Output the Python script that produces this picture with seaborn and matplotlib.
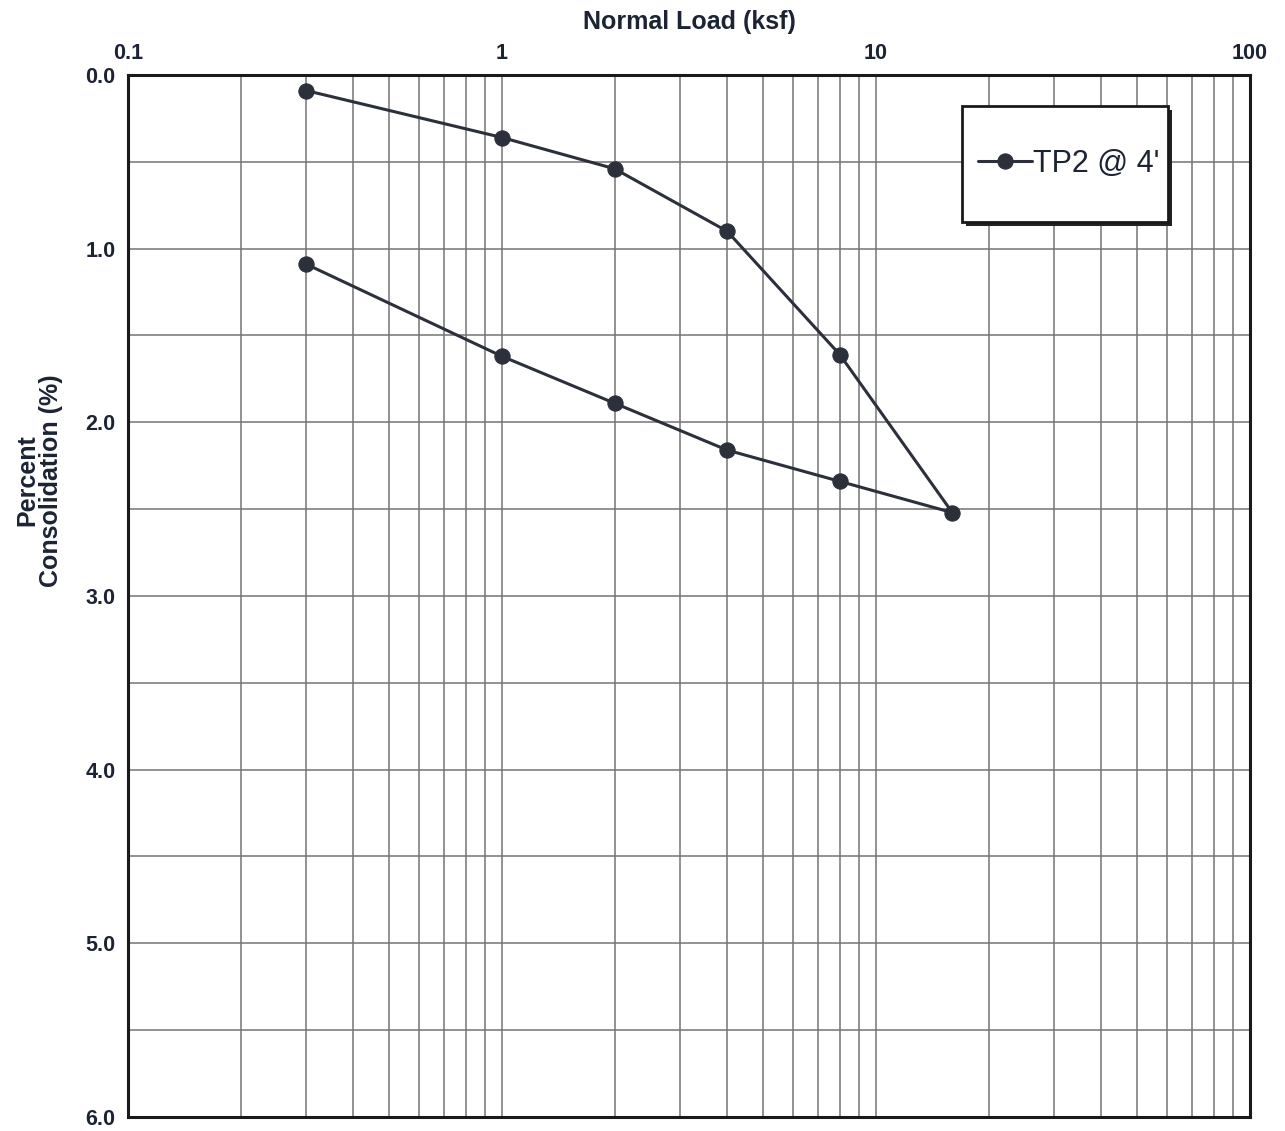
import matplotlib
matplotlib.use("Agg")
import matplotlib.pyplot as plt
import matplotlib.transforms as mtransforms
from matplotlib.patches import Rectangle
from matplotlib.ticker import FixedLocator, NullFormatter
import numpy as np
import pandas as pd
import seaborn as sns

# Consolidation test, loading then unloading sequence
normal_load = [0.3, 1, 2, 4, 8, 16, 8, 4, 2, 1, 0.3]
percent_consolidation = [0.09, 0.36, 0.54, 0.90, 1.61, 2.52, 2.34, 2.16, 1.89, 1.62, 1.09]
series_label = "TP2 @ 4'"

x_tick_values = [0.1, 1, 10, 100]
x_tick_labels = ["0.1", "1", "10", "100"]
y_tick_values = [0, 1, 2, 3, 4, 5, 6]
y_tick_labels = ["0.0", "1.0", "2.0", "3.0", "4.0", "5.0", "6.0"]

df = pd.DataFrame({
    "step": np.arange(len(normal_load)),
    "load": normal_load,
    "consolidation": percent_consolidation,
    "sample": series_label,
})

sns.set_theme(style="white")
plt.rcParams["font.family"] = ["Liberation Sans", "DejaVu Sans"]

fig = plt.figure(figsize=(12.85, 11.31), dpi=100)
ax = fig.add_axes([0.0996, 0.0124, 0.8732, 0.9213])

line_color = "#2b303b"
sns.lineplot(data=df, x="load", y="consolidation", hue="sample", sort=False,
             estimator=None, marker="o", markersize=11, linewidth=2.2,
             palette=[line_color], markeredgecolor=line_color, ax=ax)

ax.set_xscale("log")
ax.set_xlim(0.1, 100)
ax.set_ylim(6, 0)

# grid: every decade subdivision and every half percent
minor_x = [m * 10.0 ** e for e in (-1, 0, 1) for m in range(2, 10)]
ax.xaxis.set_major_locator(FixedLocator(x_tick_values))
ax.xaxis.set_minor_locator(FixedLocator(minor_x))
ax.xaxis.set_minor_formatter(NullFormatter())
ax.set_xticklabels(x_tick_labels)
ax.yaxis.set_major_locator(FixedLocator(y_tick_values))
ax.yaxis.set_minor_locator(FixedLocator(np.arange(0.5, 6, 1.0)))
ax.set_yticklabels(y_tick_labels)

ax.grid(True, which="both", color="#747474", linewidth=1.1)
ax.set_axisbelow(True)

ax.xaxis.tick_top()
ax.xaxis.set_label_position("top")
ax.tick_params(axis="both", which="both", length=0, labelsize=15.5,
               colors="#1c2434")
ax.tick_params(axis="x", which="major", pad=8)
ax.tick_params(axis="y", which="major", pad=9)
for lab in ax.get_xticklabels() + ax.get_yticklabels():
    lab.set_fontweight("bold")

for s in ax.spines.values():
    s.set_color("#1a1a1a")
    s.set_linewidth(2.2)

ax.set_xlabel("Normal Load (ksf)", fontsize=18, fontweight="bold",
              color="#1c2434", labelpad=10)
ax.set_ylabel("Percent\nConsolidation (%)", fontsize=18, fontweight="bold",
              color="#1c2434", linespacing=0.95)
ax.yaxis.set_label_coords(-0.058, 0.611)

# legend box with a drop shadow
box_x, box_y, box_w, box_h = 0.7433, 0.8589, 0.1836, 0.1113
shadow_tf = mtransforms.offset_copy(ax.transAxes, fig=fig, x=4, y=-4, units="dots")
ax.add_patch(Rectangle((box_x, box_y), box_w, box_h, transform=shadow_tf,
                       facecolor="#222222", edgecolor="none", zorder=3,
                       clip_on=False))
ax.add_patch(Rectangle((box_x, box_y), box_w, box_h, transform=ax.transAxes,
                       facecolor="white", edgecolor="#1a1a1a", linewidth=2.0,
                       zorder=3.1, clip_on=False))

leg = ax.legend(loc="center", bbox_to_anchor=(0.8387, 0.9146),
                frameon=False, fontsize=22, borderpad=0,
                handlelength=1.75, handletextpad=0.05, borderaxespad=0)
leg.set_zorder(4)
leg.set_title(None)
for t in leg.get_texts():
    t.set_color("#1c2434")

fig.savefig("out.png", dpi=100, facecolor="white")
